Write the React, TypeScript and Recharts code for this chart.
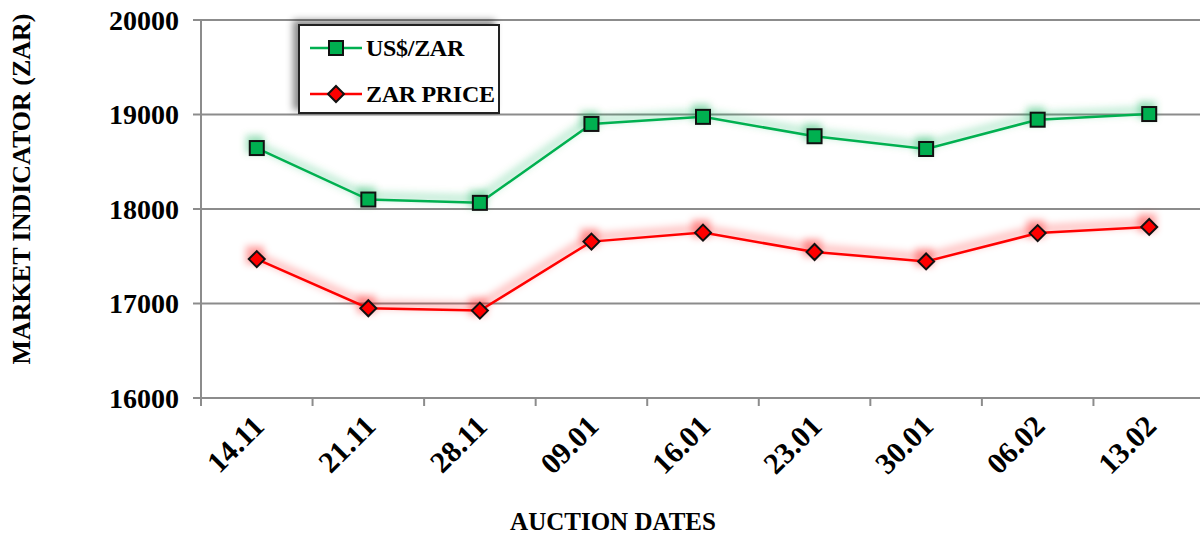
import { CartesianGrid, Line, LineChart, XAxis, YAxis } from "recharts";

const dates = ["14.11", "21.11", "28.11", "09.01", "16.01", "23.01", "30.01", "06.02", "13.02"];
const usdZar = [18645, 18100, 18065, 18900, 18975, 18770, 18635, 18945, 19005];
const zarPrice = [17470, 16950, 16925, 17655, 17750, 17545, 17445, 17745, 17810];
const yTicks = [16000, 17000, 18000, 19000, 20000];
const seriesNames = ["US$/ZAR", "ZAR PRICE"];

const data = dates.map((date, i) => ({ i, date, usd: usdZar[i], zar: zarPrice[i] }));
// ticks sit between the dates, like the spreadsheet axis
const edgeTicks = [...dates.map((_, i) => i - 0.5), dates.length - 0.5];

const CHART_W = 1210;
const CHART_H = 535;
const MARGIN = { top: 20, right: 5, left: 0, bottom: 0 };
const Y_AXIS_W = 201;
const HALF_STEP = (CHART_W - MARGIN.left - MARGIN.right - Y_AXIS_W) / dates.length / 2;

const GREEN = "#00B050";
const RED = "#FF0000";
const GRID = "#8C8C8C";
const SERIF = "'Liberation Serif', 'Times New Roman', serif";

function DateTick(props: any) {
  const { x, y, payload } = props;
  const idx = Math.round(payload.value + 0.5);
  if (idx >= dates.length) return null;
  const tx = x + HALF_STEP + 9;
  const ty = y + 20;
  return (
    <text
      x={tx}
      y={ty}
      transform={`rotate(-45 ${tx} ${ty})`}
      textAnchor="end"
      fill="#000"
      fontFamily={SERIF}
      fontWeight={700}
      fontSize={30}
    >
      {dates[idx]}
    </text>
  );
}

const squareDot = (props: any) => {
  const { cx, cy, index } = props;
  return (
    <rect key={`sq-${index}`} x={cx - 7} y={cy - 7} width={14} height={14} fill={GREEN} stroke="#111" strokeWidth={2} />
  );
};

const diamondDot = (props: any) => {
  const { cx, cy, index } = props;
  return (
    <polygon
      key={`dm-${index}`}
      points={`${cx},${cy - 8} ${cx + 8},${cy} ${cx},${cy + 8} ${cx - 8},${cy}`}
      fill={RED}
      stroke="#111"
      strokeWidth={2}
    />
  );
};

const glowDot = (color: string) => (props: any) => {
  const { cx, cy, index } = props;
  return (
    <rect
      key={`gl-${index}`}
      x={cx - 9}
      y={cy - 9}
      width={18}
      height={18}
      fill={color}
      fillOpacity={0.35}
      filter="url(#glow)"
    />
  );
};

function LegendBox() {
  const items = [
    { name: seriesNames[0], color: GREEN, marker: "square" },
    { name: seriesNames[1], color: RED, marker: "diamond" },
  ];
  return (
    <div
      style={{
        position: "absolute",
        left: 298,
        top: 24,
        width: 198,
        height: 86,
        border: "2px solid #222",
        background: "#fff",
        boxShadow: "-5px -4px 7px rgba(0,0,0,0.45)",
        fontFamily: SERIF,
        fontWeight: 700,
        fontSize: 24,
        letterSpacing: -0.3,
      }}
    >
      {items.map((it, k) => (
        <div
          key={it.name}
          style={{ position: "absolute", left: 10, top: 6 + k * 46, height: 32, display: "flex", alignItems: "center", whiteSpace: "nowrap" }}
        >
          <svg width={52} height={20}>
            <line x1={0} y1={10} x2={52} y2={10} stroke={it.color} strokeWidth={2.5} />
            {it.marker === "square" ? (
              <rect x={19} y={3} width={14} height={14} fill={it.color} stroke="#111" strokeWidth={2} />
            ) : (
              <polygon points="26,2 34,10 26,18 18,10" fill={it.color} stroke="#111" strokeWidth={2} />
            )}
          </svg>
          <span style={{ marginLeft: 4 }}>{it.name}</span>
        </div>
      ))}
    </div>
  );
}

export default function App() {
  return (
    <div style={{ position: "absolute", left: 0, top: 0, width: 1200, height: CHART_H, overflow: "hidden", background: "#fff" }}>
      <LineChart width={CHART_W} height={CHART_H} data={data} margin={MARGIN}>
        <defs>
          <filter id="glow" x="-50%" y="-100%" width="200%" height="300%">
            <feOffset dx={-2} dy={-4} />
            <feGaussianBlur stdDeviation={3.5} />
          </filter>
        </defs>
        <CartesianGrid vertical={false} stroke={GRID} strokeWidth={2} />
        <XAxis
          dataKey="i"
          type="number"
          domain={[-0.5, dates.length - 0.5]}
          ticks={edgeTicks}
          interval={0}
          height={CHART_H - 398 - MARGIN.bottom}
          axisLine={{ stroke: GRID, strokeWidth: 2 }}
          tickLine={{ stroke: GRID, strokeWidth: 2 }}
          tickSize={8}
          tickMargin={2}
          tick={<DateTick />}
        />
        <YAxis
          domain={[16000, 20000]}
          ticks={yTicks}
          interval={0}
          width={Y_AXIS_W}
          axisLine={{ stroke: GRID, strokeWidth: 2 }}
          tickLine={{ stroke: GRID, strokeWidth: 2 }}
          tickSize={8}
          tickMargin={14}
          tick={{ fill: "#000", fontFamily: SERIF, fontWeight: 700, fontSize: 28 }}
        />
        <Line dataKey="usd" stroke={GREEN} strokeOpacity={0.22} strokeWidth={9} dot={glowDot(GREEN)} activeDot={false} legendType="none" isAnimationActive={false} filter="url(#glow)" />
        <Line dataKey="zar" stroke={RED} strokeOpacity={0.22} strokeWidth={9} dot={glowDot(RED)} activeDot={false} legendType="none" isAnimationActive={false} filter="url(#glow)" />
        <Line dataKey="usd" name={seriesNames[0]} stroke={GREEN} strokeWidth={2.5} dot={squareDot} activeDot={false} isAnimationActive={false} />
        <Line dataKey="zar" name={seriesNames[1]} stroke={RED} strokeWidth={2.5} dot={diamondDot} activeDot={false} isAnimationActive={false} />
      </LineChart>
      <LegendBox />
      <div
        style={{
          position: "absolute",
          left: 22,
          top: 189,
          transform: "translate(-50%, -50%) rotate(-90deg)",
          whiteSpace: "nowrap",
          fontFamily: SERIF,
          fontWeight: 700,
          fontSize: 26,
        }}
      >
        MARKET INDICATOR (ZAR)
      </div>
      <div
        style={{
          position: "absolute",
          left: 613,
          top: 522,
          transform: "translate(-50%, -50%)",
          whiteSpace: "nowrap",
          fontFamily: SERIF,
          fontWeight: 700,
          fontSize: 25,
        }}
      >
        AUCTION DATES
      </div>
    </div>
  );
}
